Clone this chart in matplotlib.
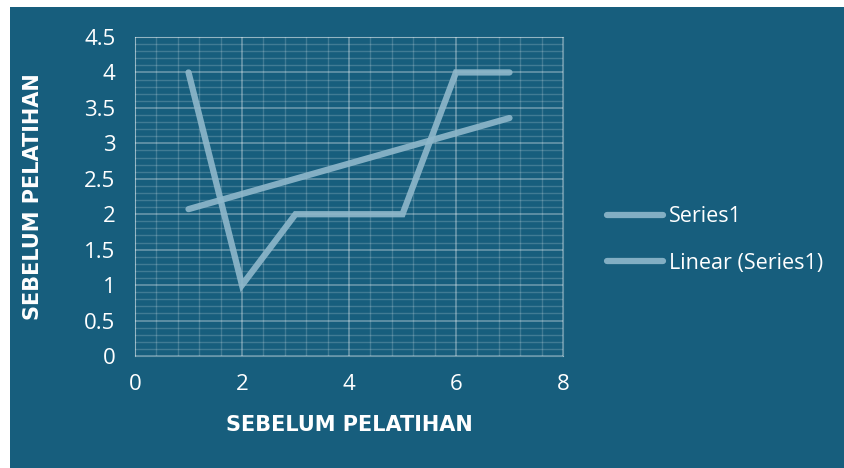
import numpy as np
import matplotlib.pyplot as plt
from matplotlib.patches import Rectangle
from matplotlib.ticker import MultipleLocator

x = [1, 2, 3, 4, 5, 6, 7]
series1 = [4, 1, 2, 2, 2, 4, 4]
series_name = "Series1"
trend_name = "Linear (Series1)"
axis_title = "SEBELUM PELATIHAN"

bg = "#175e7d"
line_col = "#8fb8cb"

plt.rcParams['font.family'] = ['Open Sans', 'DejaVu Sans']

fig = plt.figure(figsize=(8.44, 4.68), dpi=100)
fig.patch.set_facecolor("white")
fig.patches.append(Rectangle((10 / 844, 0), 1, 1 - 7 / 468, transform=fig.transFigure,
                             facecolor=bg, edgecolor="none", zorder=-10))

ax = fig.add_axes([135 / 844, 112 / 468, 428 / 844, 319 / 468])
ax.set_facecolor(bg)

# trend line from least squares fit
k, b = np.polyfit(x, series1, 1)
xt = np.array([x[0], x[-1]])

ax.plot(x, series1, color=line_col, lw=4.5, solid_capstyle="round",
        solid_joinstyle="miter", alpha=0.9, label=series_name, zorder=3)
ax.plot(xt, k * xt + b, color=line_col, lw=4.5, solid_capstyle="round",
        alpha=0.9, label=trend_name, zorder=3)

ax.set_xlim(0, 8)
ax.set_ylim(0, 4.5)
ax.xaxis.set_minor_locator(MultipleLocator(0.4))
ax.yaxis.set_minor_locator(MultipleLocator(0.1))
ax.set_xticks([0, 2, 4, 6, 8])
ax.set_xticklabels(["0", "2", "4", "6", "8"])
ax.set_yticks([0, 0.5, 1, 1.5, 2, 2.5, 3, 3.5, 4, 4.5])
ax.set_yticklabels(["0", "0.5", "1", "1.5", "2", "2.5", "3", "3.5", "4", "4.5"])

ax.grid(which="major", color="white", alpha=0.35, lw=1.2)
ax.grid(which="minor", color="white", alpha=0.18, lw=1.0)
for s in ax.spines.values():
    s.set_color((1, 1, 1, 0.35))
ax.tick_params(which="both", length=0, colors="white", labelsize=16)
ax.tick_params(axis="x", pad=13)
ax.tick_params(axis="y", pad=14)

ax.set_xlabel(axis_title, color="white", fontsize=15, fontweight="bold",
              family="DejaVu Sans", va="center")
ax.set_ylabel(axis_title, color="white", fontsize=15, fontweight="bold",
              family="DejaVu Sans", va="center", ha="center")
ax.xaxis.set_label_coords(0.5, (356 - 425) / 319)
ax.yaxis.set_label_coords((33 - 135) / 428, 0.5)

leg = fig.legend(loc="center left", bbox_to_anchor=(588 / 844, (468 - 240) / 468),
                 frameon=False, fontsize=15.5, labelcolor="white", handlelength=2.6,
                 handletextpad=0.25, labelspacing=1.2)

fig.savefig("out.png", dpi=100, facecolor=fig.get_facecolor())
